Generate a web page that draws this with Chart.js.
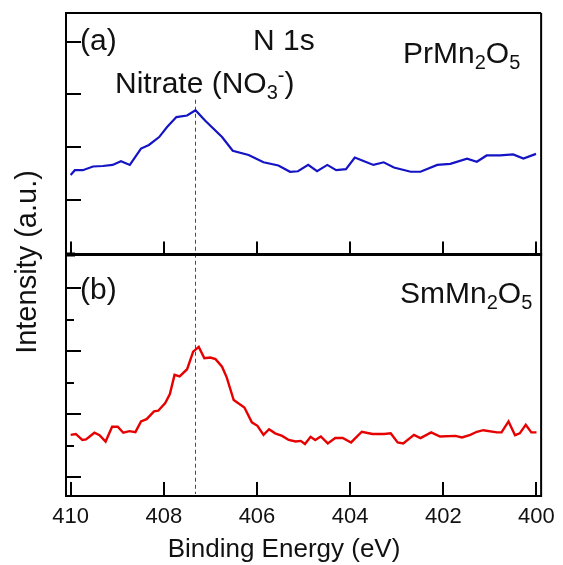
<!DOCTYPE html>
<html>
<head>
<meta charset="utf-8">
<title>N 1s spectra</title>
<script src="https://cdn.jsdelivr.net/npm/chart.js@4.4.1/dist/chart.umd.min.js"></script>
<style>
  html, body { margin: 0; padding: 0; background: #ffffff; }
  #wrap { width: 563px; height: 565px; }
</style>
</head>
<body>
<div id="wrap"><canvas id="c" width="563" height="565"></canvas></div>
<script>
// N 1s XPS spectra; binding energy in eV, intensity in arbitrary units
const energyPr = [410.00, 409.91, 409.74, 409.52, 409.31, 409.10, 408.92, 408.73, 408.49, 408.32,
  408.10, 407.93, 407.73, 407.50, 407.32, 407.11, 406.75, 406.52, 406.18, 405.86,
  405.54, 405.29, 405.12, 404.90, 404.71, 404.49, 404.30, 404.09, 403.90, 403.70,
  403.50, 403.28, 403.06, 402.70, 402.49, 402.13, 401.85, 401.49, 401.28, 401.07,
  400.78, 400.50, 400.28, 400.01];
const intensityPr = [1.47, 1.56, 1.56, 1.63, 1.64, 1.66, 1.73, 1.66, 1.97, 2.04,
  2.19, 2.38, 2.57, 2.60, 2.70, 2.50, 2.19, 1.93, 1.85, 1.71,
  1.65, 1.53, 1.54, 1.66, 1.54, 1.66, 1.56, 1.58, 1.80, 1.73,
  1.66, 1.71, 1.61, 1.53, 1.53, 1.66, 1.68, 1.78, 1.72, 1.84,
  1.84, 1.86, 1.78, 1.87];

const energySm = [410.00, 409.89, 409.75, 409.67, 409.49, 409.38, 409.25, 409.11, 408.99, 408.87,
  408.74, 408.61, 408.49, 408.37, 408.21, 408.12, 407.97, 407.87, 407.77, 407.66,
  407.50, 407.37, 407.25, 407.13, 407.00, 406.89, 406.75, 406.65, 406.50, 406.27,
  406.11, 405.99, 405.86, 405.74, 405.61, 405.46, 405.32, 405.17, 405.06, 404.97,
  404.85, 404.75, 404.63, 404.48, 404.32, 404.16, 403.98, 403.75, 403.52, 403.27,
  403.13, 402.98, 402.86, 402.63, 402.49, 402.26, 402.07, 401.74, 401.60, 401.42,
  401.28, 401.14, 400.85, 400.75, 400.60, 400.46, 400.36, 400.23, 400.11, 400.00];
const intensitySm = [1.34, 1.37, 1.18, 1.20, 1.41, 1.33, 1.13, 1.60, 1.60, 1.41,
  1.46, 1.43, 1.77, 1.84, 2.09, 2.11, 2.35, 2.64, 3.25, 3.20,
  3.43, 3.99, 4.14, 3.78, 3.80, 3.75, 3.51, 3.17, 2.45, 2.21,
  1.74, 1.63, 1.34, 1.52, 1.39, 1.31, 1.18, 1.13, 1.15, 1.05,
  1.28, 1.18, 1.29, 1.07, 1.24, 1.24, 1.10, 1.44, 1.37, 1.37,
  1.39, 1.10, 1.07, 1.34, 1.24, 1.42, 1.29, 1.31, 1.26, 1.34,
  1.44, 1.49, 1.42, 1.42, 1.77, 1.33, 1.39, 1.66, 1.42, 1.42];

// tick positions
const energyTicks = [410, 408, 406, 404, 402, 400];
const prTicks = [1, 2, 3, 4];
const smMajorTicks = [0, 2, 4, 6];
const smMinorTicks = [1, 3, 5];

// nitrate reference position and top end of its marker line (upper-panel units)
const nitrateEnergy = 407.33;
const nitrateLineTop = 2.9;

const FONT = '"Liberation Sans", Arial, Helvetica, sans-serif';
const INK = '#111111';

function toPoints(xs, ys) {
  return xs.map((x, i) => ({ x: x, y: ys[i] }));
}

// draws a run of text pieces, some of them sub- or superscripted
function richText(ctx, parts, x, y, size) {
  let cx = x;
  for (const [txt, kind] of parts) {
    const s = kind ? Math.round(size * 0.66) : size;
    ctx.font = s + 'px ' + FONT;
    let dy = 0;
    if (kind === 'sub') dy = size * 0.2;
    if (kind === 'sup') dy = -size * 0.36;
    ctx.fillText(txt, cx, y + dy);
    cx += ctx.measureText(txt).width;
  }
}

const panelDecor = {
  id: 'panelDecor',
  beforeDatasetsDraw(chart) {
    const { ctx, scales: { x, yTop, yBot } } = chart;
    const px = Math.round(x.getPixelForValue(nitrateEnergy)) + 0.5;
    ctx.save();
    ctx.strokeStyle = '#4a4a4a';
    ctx.lineWidth = 1;
    ctx.setLineDash([4, 3]);
    ctx.beginPath();
    ctx.moveTo(px, yTop.getPixelForValue(nitrateLineTop));
    ctx.lineTo(px, yBot.bottom - 2);
    ctx.stroke();
    ctx.restore();
  },
  afterDraw(chart) {
    const { ctx, chartArea, scales: { x, yTop, yBot } } = chart;
    const left = chartArea.left, right = chartArea.right;
    ctx.save();
    ctx.strokeStyle = '#000000';
    ctx.lineCap = 'butt';

    // frame: top and right edges, panel divider
    ctx.lineWidth = 2;
    ctx.beginPath();
    ctx.moveTo(left - 1, chartArea.top);
    ctx.lineTo(right, chartArea.top);
    ctx.moveTo(right, chartArea.top);
    ctx.lineTo(right, chartArea.bottom + 1);
    ctx.stroke();
    ctx.lineWidth = 3;
    ctx.beginPath();
    ctx.moveTo(left - 1, yTop.bottom);
    ctx.lineTo(right + 1, yTop.bottom);
    ctx.stroke();
    ctx.fillStyle = '#000000';
    ctx.fillRect(left - 1, yTop.bottom - 2, 10, 4);

    // inward tick marks
    ctx.lineWidth = 2;
    ctx.beginPath();
    for (const v of prTicks) {
      const y = Math.round(yTop.getPixelForValue(v));
      ctx.moveTo(left, y); ctx.lineTo(left + 15, y);
    }
    for (const v of smMajorTicks) {
      const y = Math.round(yBot.getPixelForValue(v));
      ctx.moveTo(left, y); ctx.lineTo(left + 15, y);
    }
    for (const v of smMinorTicks) {
      const y = Math.round(yBot.getPixelForValue(v));
      ctx.moveTo(left, y); ctx.lineTo(left + 8, y);
    }
    for (const v of energyTicks) {
      const xp = Math.round(x.getPixelForValue(v));
      ctx.moveTo(xp, yTop.bottom); ctx.lineTo(xp, yTop.bottom - 13);
      ctx.moveTo(xp, yBot.bottom); ctx.lineTo(xp, yBot.bottom - 14);
    }
    ctx.stroke();

    // panel labels and annotations
    ctx.fillStyle = INK;
    ctx.textAlign = 'left';
    ctx.textBaseline = 'alphabetic';
    richText(ctx, [['(a)', '']], 80, 50, 30);
    richText(ctx, [['N 1s', '']], 253, 50, 30);
    richText(ctx, [['Nitrate (NO', ''], ['3', 'sub'], ['-', 'sup'], [')', '']], 115, 93, 30);
    richText(ctx, [['PrMn', ''], ['2', 'sub'], ['O', ''], ['5', 'sub']], 403, 63, 30);
    richText(ctx, [['(b)', '']], 80, 299, 30);
    richText(ctx, [['SmMn', ''], ['2', 'sub'], ['O', ''], ['5', 'sub']], 400, 303, 30);

    // axis titles
    ctx.textAlign = 'center';
    ctx.font = '26px ' + FONT;
    ctx.fillText('Binding Energy (eV)', 284, 557);
    ctx.save();
    ctx.translate(36, 262);
    ctx.rotate(-Math.PI / 2);
    ctx.font = '29px ' + FONT;
    ctx.fillText('Intensity (a.u.)', 0, 0);
    ctx.restore();

    ctx.restore();
  }
};

new Chart(document.getElementById('c'), {
  type: 'line',
  data: {
    datasets: [
      {
        label: 'PrMn2O5',
        data: toPoints(energyPr, intensityPr),
        yAxisID: 'yTop',
        borderColor: '#1414c4',
        borderWidth: 2.2,
        pointRadius: 0,
        fill: false,
        tension: 0
      },
      {
        label: 'SmMn2O5',
        data: toPoints(energySm, intensitySm),
        yAxisID: 'yBot',
        borderColor: '#e60000',
        borderWidth: 2.4,
        pointRadius: 0,
        fill: false,
        tension: 0
      }
    ]
  },
  options: {
    responsive: false,
    animation: false,
    events: [],
    layout: { padding: { top: 13, right: 18, left: 0, bottom: 0 } },
    plugins: {
      legend: { display: false },
      tooltip: { enabled: false },
      title: { display: false }
    },
    scales: {
      x: {
        type: 'linear',
        reverse: true,
        min: 399.9,
        max: 410.1,
        afterBuildTicks: (s) => { s.ticks = energyTicks.map(v => ({ value: v })); },
        afterFit: (s) => { s.height = 69; },
        ticks: {
          padding: 8,
          color: INK,
          font: { family: FONT, size: 22 },
          maxRotation: 0,
          autoSkip: false
        },
        grid: { display: false, drawTicks: false },
        border: { display: true, color: '#000000', width: 2 }
      },
      yTop: {
        type: 'linear',
        position: 'left',
        stack: 'panels',
        stackWeight: 1,
        weight: 1,
        min: -0.044,
        max: 4.55,
        afterFit: (s) => { s.width = 66; },
        ticks: { display: false },
        grid: { display: false, drawTicks: false },
        border: { display: true, color: '#000000', width: 2 }
      },
      yBot: {
        type: 'linear',
        position: 'left',
        stack: 'panels',
        stackWeight: 1,
        weight: 0,
        min: -0.603,
        max: 7.079,
        afterFit: (s) => { s.width = 66; },
        ticks: { display: false },
        grid: { display: false, drawTicks: false },
        border: { display: true, color: '#000000', width: 2 }
      }
    }
  },
  plugins: [panelDecor]
});
</script>
</body>
</html>
